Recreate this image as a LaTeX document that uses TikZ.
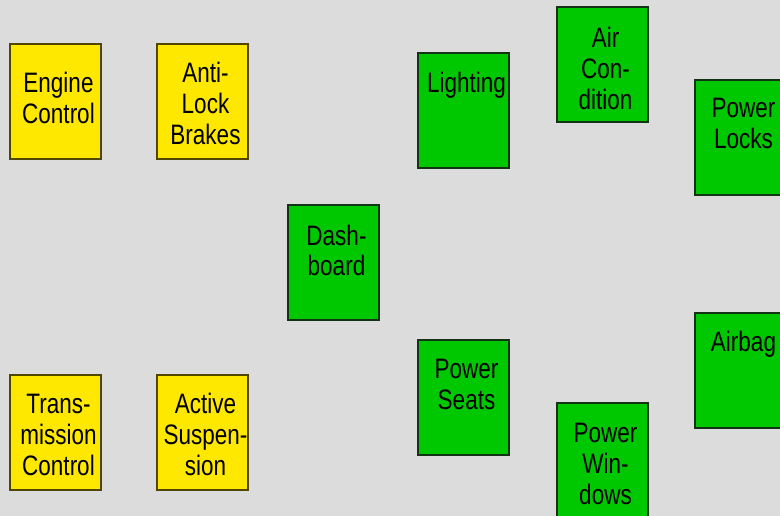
\documentclass[tikz,border=0pt]{standalone}
\usepackage{fontspec}
\setmainfont{Liberation Sans}
\usepackage{graphicx}
\usetikzlibrary{calc}
\definecolor{bg}{RGB}{220,220,220}
\definecolor{ecuyellow}{RGB}{255,232,0}
\definecolor{ecugreen}{RGB}{0,200,0}
\definecolor{yborder}{RGB}{80,70,0}
\definecolor{gborder}{RGB}{20,50,20}
\newcommand\boxtext[1]{\scalebox{1}[1.25]{\begin{tabular}[t]{@{}c@{}}#1\end{tabular}}}
\begin{document}
\begin{tikzpicture}[x=1pt,y=-1pt,
 ecu/.style={draw, line width=1.3pt, minimum width=91pt, minimum height=115pt, anchor=north west, inner sep=0pt, outer sep=0pt},
 yel/.style={ecu, fill=ecuyellow, draw=yborder},
 grn/.style={ecu, fill=ecugreen, draw=gborder},
 lbl/.style={anchor=base, inner sep=0pt, font=\fontsize{22.5}{24.8}\selectfont}
]
\useasboundingbox (0,0) rectangle (780,516);
\clip (0,0) rectangle (780,516);
\fill[bg] (0,0) rectangle (780,516);
% boxes
\node[yel] (engine) at (10,44) {};
\node[yel] (abs) at (157,44) {};
\node[yel] (trans) at (10,375) {};
\node[yel] (susp) at (157,375) {};
\node[grn] (dash) at (288,205) {};
\node[grn] (light) at (418,53) {};
\node[grn] (air) at (557,7) {};
\node[grn] (locks) at (695,80) {};
\node[grn] (seats) at (418,340) {};
\node[grn] (windows) at (557,403) {};
\node[grn] (airbag) at (695,313) {};
% labels
\node[lbl] (engine-t) at ($(engine.north)+(3,49)$) {\boxtext{Engine\\Control}};
\node[lbl] (abs-t) at ($(abs.north)+(3,39)$) {\boxtext{Anti-\\Lock\\Brakes}};
\node[lbl] (trans-t) at ($(trans.north)+(3,38)$) {\boxtext{Trans-\\mission\\Control}};
\node[lbl] (susp-t) at ($(susp.north)+(3,38)$) {\boxtext{Active\\Suspen-\\sion}};
\node[lbl] (dash-t) at ($(dash.north)+(3,40)$) {\boxtext{Dash-\\board}};
\node[lbl] (light-t) at ($(light.north)+(3,40)$) {\boxtext{Lighting}};
\node[lbl] (air-t) at ($(air.north)+(3,41)$) {\boxtext{Air\\Con-\\dition}};
\node[lbl] (locks-t) at ($(locks.north)+(3,38)$) {\boxtext{Power\\Locks}};
\node[lbl] (seats-t) at ($(seats.north)+(3,38)$) {\boxtext{Power\\Seats}};
\node[lbl] (windows-t) at ($(windows.north)+(3,39)$) {\boxtext{Power\\Win-\\dows}};
\node[lbl] (airbag-t) at ($(airbag.north)+(3,38)$) {\boxtext{Airbag}};
\end{tikzpicture}
\end{document}
